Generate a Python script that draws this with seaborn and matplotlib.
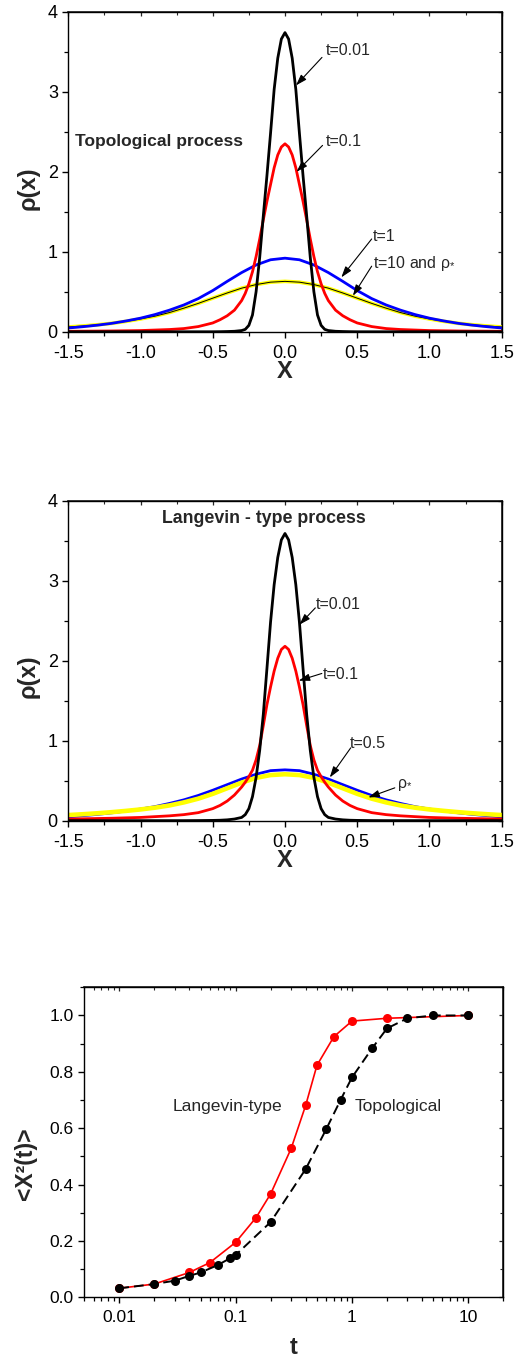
import pandas as pd
import matplotlib
matplotlib.use('Agg')
import matplotlib.pyplot as plt
from matplotlib.ticker import MultipleLocator, LogLocator, NullFormatter
import seaborn as sns

sns.set_theme(style='ticks')
plt.rcParams['font.family'] = ['Liberation Sans', 'DejaVu Sans']
plt.rcParams['mathtext.fontset'] = 'custom'
plt.rcParams['mathtext.rm'] = 'Liberation Sans'
plt.rcParams['mathtext.it'] = 'Liberation Sans'

# x grids of the density curves
X_NARROW = [-1.5, -1.2, -1.0, -0.8, -0.7, -0.6, -0.5, -0.45, -0.4, -0.35, -0.3, -0.275,
            -0.25, -0.225, -0.2, -0.175, -0.15, -0.125, -0.1, -0.075, -0.05, -0.025, 0.0,
            0.025, 0.05, 0.075, 0.1, 0.125, 0.15, 0.175, 0.2, 0.225, 0.25, 0.275, 0.3,
            0.35, 0.4, 0.45, 0.5, 0.6, 0.7, 0.8, 1.0, 1.2, 1.5]
X_BROAD = [-1.5, -1.4, -1.3, -1.2, -1.1, -1.0, -0.9, -0.8, -0.7, -0.6, -0.5, -0.4, -0.3,
           -0.2, -0.1, 0.0, 0.1, 0.2, 0.3, 0.4, 0.5, 0.6, 0.7, 0.8, 0.9, 1.0, 1.1, 1.2,
           1.3, 1.4, 1.5]

# topological process
TOPO_T001 = [0.0, 0.0, 0.0, 0.0, 0.0, 0.0, 0.0, 0.001, 0.003, 0.006, 0.015, 0.03,
             0.08, 0.21, 0.50, 0.93, 1.45, 1.95, 2.48, 3.03, 3.42, 3.66, 3.74,
             3.66, 3.42, 3.03, 2.48, 1.95, 1.45, 0.93, 0.50, 0.21, 0.08, 0.03, 0.015,
             0.006, 0.003, 0.001, 0.0, 0.0, 0.0, 0.0, 0.0, 0.0, 0.0]
TOPO_T01 = [0.006, 0.01, 0.015, 0.028, 0.04, 0.065, 0.11, 0.15, 0.20, 0.27, 0.39, 0.48,
            0.60, 0.75, 0.94, 1.16, 1.40, 1.63, 1.84, 2.05, 2.21, 2.31, 2.35,
            2.31, 2.21, 2.05, 1.84, 1.63, 1.40, 1.16, 0.94, 0.75, 0.60, 0.48, 0.39,
            0.27, 0.20, 0.15, 0.11, 0.065, 0.04, 0.028, 0.015, 0.01, 0.006]
TOPO_T1 = [0.047, 0.063, 0.082, 0.105, 0.135, 0.17, 0.215, 0.27, 0.335, 0.415, 0.515,
           0.63, 0.74, 0.835, 0.90, 0.92, 0.90, 0.835, 0.74, 0.63, 0.515, 0.415, 0.335,
           0.27, 0.215, 0.17, 0.135, 0.105, 0.082, 0.063, 0.047]
TOPO_T10 = [0.06, 0.072, 0.087, 0.105, 0.13, 0.16, 0.195, 0.24, 0.295, 0.355, 0.42,
            0.485, 0.545, 0.59, 0.62, 0.63, 0.62, 0.59, 0.545, 0.485, 0.42, 0.355, 0.295,
            0.24, 0.195, 0.16, 0.13, 0.105, 0.087, 0.072, 0.06]

# Langevin-type process
LANG_T001 = [0.0, 0.0, 0.0, 0.0, 0.0, 0.001, 0.003, 0.005, 0.01, 0.02, 0.04, 0.075,
             0.15, 0.30, 0.54, 0.88, 1.33, 1.90, 2.48, 2.95, 3.29, 3.51, 3.59,
             3.51, 3.29, 2.95, 2.48, 1.90, 1.33, 0.88, 0.54, 0.30, 0.15, 0.075, 0.04,
             0.02, 0.01, 0.005, 0.003, 0.001, 0.0, 0.0, 0.0, 0.0, 0.0]
LANG_T01 = [0.02, 0.03, 0.04, 0.06, 0.075, 0.10, 0.15, 0.19, 0.245, 0.32, 0.42, 0.48,
            0.55, 0.63, 0.76, 0.94, 1.19, 1.45, 1.67, 1.87, 2.03, 2.14, 2.18,
            2.14, 2.03, 1.87, 1.67, 1.45, 1.19, 0.94, 0.76, 0.63, 0.55, 0.48, 0.42,
            0.32, 0.245, 0.19, 0.15, 0.10, 0.075, 0.06, 0.04, 0.03, 0.02]
LANG_T05 = [0.048, 0.062, 0.078, 0.097, 0.12, 0.145, 0.175, 0.215, 0.26, 0.315, 0.38,
            0.45, 0.52, 0.58, 0.625, 0.635, 0.625, 0.58, 0.52, 0.45, 0.38, 0.315, 0.26,
            0.215, 0.175, 0.145, 0.12, 0.097, 0.078, 0.062, 0.048]
LANG_RHO = [0.07, 0.08, 0.092, 0.106, 0.122, 0.14, 0.162, 0.19, 0.228, 0.275, 0.335,
            0.405, 0.475, 0.535, 0.57, 0.58, 0.57, 0.535, 0.475, 0.405, 0.335, 0.275,
            0.228, 0.19, 0.162, 0.14, 0.122, 0.106, 0.092, 0.08, 0.07]

# mean square displacement
T_LANG = [0.01, 0.02, 0.04, 0.06, 0.1, 0.15, 0.2, 0.3, 0.4, 0.5, 0.7, 1, 2, 10]
MSD_LANG = [0.032, 0.047, 0.088, 0.123, 0.195, 0.283, 0.367, 0.528, 0.681, 0.823,
            0.925, 0.980, 0.990, 1.0]
T_TOPO = [0.01, 0.02, 0.03, 0.04, 0.05, 0.07, 0.09, 0.1, 0.2, 0.4, 0.6, 0.8, 1, 1.5, 2,
          3, 5, 10]
MSD_TOPO = [0.032, 0.047, 0.059, 0.076, 0.088, 0.114, 0.139, 0.150, 0.267, 0.455, 0.596,
            0.701, 0.780, 0.885, 0.954, 0.990, 1.0, 1.0]

TICK_FS = 13
ANN_FS = 11.5


def curve(ax, x, y, color, lw):
    df = pd.DataFrame({'x': x, 'rho': y})
    sns.lineplot(data=df, x='x', y='rho', color=color, lw=lw, ax=ax,
                 estimator=None, sort=False)


def arrow(ax, tail, head):
    ax.annotate('', xy=head, xytext=tail,
                arrowprops=dict(arrowstyle='-|>,head_length=0.55,head_width=0.18',
                                color='black', lw=0.8, shrinkA=0, shrinkB=0))


def style_axes(ax, xmaj, xmin, ymaj, ymin, log=False):
    for sp in ax.spines.values():
        sp.set_visible(True)
        sp.set_linewidth(1.0)
        sp.set_color('black')
    ax.tick_params(which='major', direction='out', length=4.5, width=1.0,
                   labelsize=TICK_FS, pad=3, colors='black')
    ax.tick_params(axis='x', which='major', pad=5)
    ax.tick_params(which='minor', direction='out', length=3, width=0.9, colors='black')
    if not log:
        ax.xaxis.set_major_locator(MultipleLocator(xmaj))
        ax.xaxis.set_minor_locator(MultipleLocator(xmin))
    ax.yaxis.set_major_locator(MultipleLocator(ymaj))
    ax.yaxis.set_minor_locator(MultipleLocator(ymin))
    top = ax.secondary_xaxis('top')
    right = ax.secondary_yaxis('right')
    if log:
        top.xaxis.set_major_locator(LogLocator(base=10))
        top.xaxis.set_minor_locator(LogLocator(base=10, subs=range(2, 10)))
    else:
        top.xaxis.set_major_locator(MultipleLocator(xmaj))
        top.xaxis.set_minor_locator(MultipleLocator(xmin))
    right.yaxis.set_major_locator(MultipleLocator(ymaj))
    right.yaxis.set_minor_locator(MultipleLocator(ymin))
    for sec in (top, right):
        sec.tick_params(which='major', direction='in', length=3, width=0.9,
                        labeltop=False, labelright=False)
        sec.tick_params(which='minor', direction='in', length=2, width=0.8)
        sec.xaxis.set_major_formatter(NullFormatter())
        sec.yaxis.set_major_formatter(NullFormatter())
        sec.xaxis.set_minor_formatter(NullFormatter())
        sec.yaxis.set_minor_formatter(NullFormatter())


def density_panel(ax):
    ax.set_xlim(-1.5, 1.5)
    ax.set_ylim(0, 4)
    style_axes(ax, 0.5, 0.25, 1, 0.5)
    ax.set_xticks([-1.5, -1.0, -0.5, 0.0, 0.5, 1.0, 1.5])
    ax.set_xticklabels(['-1.5', '-1.0', '-0.5', '0.0', '0.5', '1.0', '1.5'])
    ax.set_yticks([0, 1, 2, 3, 4])
    ax.set_yticklabels(['0', '1', '2', '3', '4'])
    ax.set_xlabel('X', fontsize=17, fontweight='bold', va='center')
    ax.set_ylabel('ρ(x)', fontsize=17, fontweight='bold', va='center')
    ax.xaxis.set_label_coords(0.5, -0.125)
    ax.yaxis.set_label_coords(-0.093, 0.45)


fig = plt.figure(figsize=(5.2, 13.58), dpi=100)
ax1 = fig.add_axes([0.1313, 0.7557, 0.8335, 0.2356])
ax2 = fig.add_axes([0.1313, 0.3957, 0.8335, 0.2356])
ax3 = fig.add_axes([0.1621, 0.0447, 0.8058, 0.2283])

# top panel: topological process
curve(ax1, X_BROAD, TOPO_T10, '#ffff00', 2.6)
curve(ax1, X_BROAD, TOPO_T10, 'black', 0.7)
curve(ax1, X_BROAD, TOPO_T1, '#0000ff', 2.0)
curve(ax1, X_NARROW, TOPO_T01, '#ff0000', 2.0)
curve(ax1, X_NARROW, TOPO_T001, 'black', 2.0)
density_panel(ax1)
ax1.text(-1.455, 2.38, 'Topological process', fontsize=12.5, fontweight='bold',
         ha='left', va='center')
ax1.text(0.284, 3.52, 't=0.01', fontsize=ANN_FS, ha='left', va='center')
arrow(ax1, (0.256, 3.43), (0.076, 3.08))
ax1.text(0.284, 2.375, 't=0.1', fontsize=ANN_FS, ha='left', va='center')
arrow(ax1, (0.26, 2.33), (0.08, 2.0))
ax1.text(0.61, 1.196, 't=1', fontsize=ANN_FS, ha='left', va='center')
arrow(ax1, (0.60, 1.16), (0.39, 0.68))
ax1.text(0.61, 0.855, 't=10 and ρ$_{*}$', fontsize=ANN_FS, ha='left', va='center')
arrow(ax1, (0.60, 0.82), (0.47, 0.45))

# middle panel: Langevin-type process
curve(ax2, X_BROAD, LANG_T05, '#0000ff', 2.0)
curve(ax2, X_BROAD, LANG_RHO, '#ffff00', 3.3)
curve(ax2, X_NARROW, LANG_T01, '#ff0000', 2.0)
curve(ax2, X_NARROW, LANG_T001, 'black', 2.0)
density_panel(ax2)
ax2.text(-0.145, 3.78, 'Langevin - type process', fontsize=12.8, fontweight='bold',
         ha='center', va='center')
ax2.text(0.215, 2.70, 't=0.01', fontsize=ANN_FS, ha='left', va='center')
arrow(ax2, (0.21, 2.66), (0.10, 2.45))
ax2.text(0.26, 1.83, 't=0.1', fontsize=ANN_FS, ha='left', va='center')
arrow(ax2, (0.255, 1.84), (0.095, 1.75))
ax2.text(0.45, 0.97, 't=0.5', fontsize=ANN_FS, ha='left', va='center')
arrow(ax2, (0.455, 0.91), (0.31, 0.54))
ax2.text(0.773, 0.446, 'ρ$_{*}$', fontsize=ANN_FS, ha='left', va='center')
arrow(ax2, (0.76, 0.41), (0.577, 0.29))

# bottom panel: <X^2(t)>
ax3.set_xscale('log')
sns.lineplot(x=T_LANG, y=MSD_LANG, color='#ff0000', lw=1.2, marker='o', markersize=6.5,
             markeredgewidth=0, ax=ax3, estimator=None, sort=False)
sns.lineplot(x=T_TOPO, y=MSD_TOPO, color='black', lw=1.4, marker='o', markersize=6.5,
             markeredgewidth=0, linestyle=(0, (5, 2.6)), ax=ax3, estimator=None,
             sort=False)
ax3.set_xlim(0.005, 20)
ax3.set_ylim(0, 1.1)
style_axes(ax3, None, None, 0.2, 0.1, log=True)
ax3.set_xticks([0.01, 0.1, 1, 10])
ax3.set_xticklabels(['0.01', '0.1', '1', '10'])
ax3.xaxis.set_minor_locator(LogLocator(base=10, subs=range(2, 10)))
ax3.xaxis.set_minor_formatter(NullFormatter())
ax3.set_yticks([0.0, 0.2, 0.4, 0.6, 0.8, 1.0])
ax3.set_yticklabels(['0.0', '0.2', '0.4', '0.6', '0.8', '1.0'])
ax3.tick_params(labelsize=12.5)
ax3.text(0.029, 0.678, 'Langevin-type', fontsize=12.6, ha='left', va='center')
ax3.text(1.06, 0.678, 'Topological', fontsize=12.6, ha='left', va='center')
ax3.set_xlabel('t', fontsize=17, fontweight='bold', va='center')
ax3.set_ylabel('<X²(t)>', fontsize=16.5, fontweight='bold', va='center')
ax3.xaxis.set_label_coords(0.5, -0.1635)
ax3.yaxis.set_label_coords(-0.1415, 0.43)

fig.savefig('out.png', dpi=100)
